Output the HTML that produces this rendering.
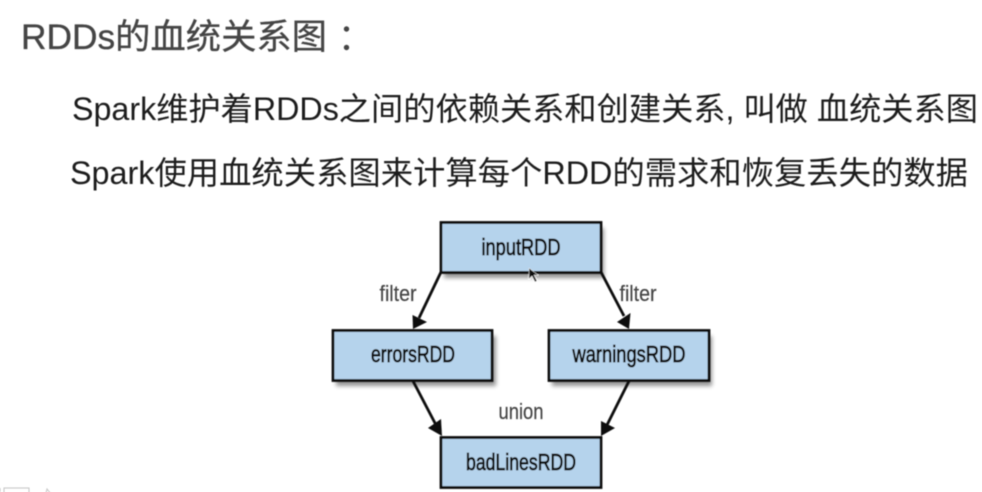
<!DOCTYPE html>
<html><head><meta charset="utf-8"><style>
html,body{margin:0;padding:0;background:#fff;width:982px;height:492px;overflow:hidden}
svg{display:block}
.t{font-family:"Liberation Sans","Noto Sans CJK SC",sans-serif}
.n{font-family:"Liberation Sans",sans-serif;font-size:23px;fill:#111;text-anchor:middle;stroke:#111;stroke-width:.8px}
.l{font-family:"Liberation Sans",sans-serif;font-size:22px;fill:#444;text-anchor:middle;stroke:#444;stroke-width:.2px}
</style></head><body>
<svg width="982" height="492" viewBox="0 0 982 492" xmlns="http://www.w3.org/2000/svg">
<defs><filter id="s" x="-10%" y="-20%" width="120%" height="150%"><feGaussianBlur stdDeviation="2.200"/></filter>
<filter id="b" x="0" y="0" width="100%" height="100%"><feGaussianBlur stdDeviation="0.5"/></filter></defs>
<rect width="982" height="492" fill="#fff"/>
<g filter="url(#b)">
<text class="t" x="21" y="49" font-size="35" fill="#444" stroke="#444" stroke-width=".3" textLength="306" lengthAdjust="spacingAndGlyphs">RDDs的血统关系图</text>
<circle cx="346.500" cy="29" r="2.700" fill="#444"/>
<circle cx="346.500" cy="47.500" r="2.700" fill="#444"/>
<text class="t" x="72" y="120" font-size="32" fill="#1a1a1a" textLength="906" lengthAdjust="spacingAndGlyphs">Spark维护着RDDs之间的依赖关系和创建关系, 叫做 血统关系图</text>
<text class="t" x="70" y="184" font-size="32" fill="#1a1a1a" textLength="898" lengthAdjust="spacingAndGlyphs">Spark使用血统关系图来计算每个RDD的需求和恢复丢失的数据</text>

<g fill="#000" opacity=".42" filter="url(#s)">
<rect x="444" y="228" width="160" height="50"/>
<rect x="336" y="336" width="160" height="50"/>
<rect x="552" y="336" width="160" height="50"/>
</g>
<g fill="#b5d3ec" stroke="#111" stroke-width="2.800">
<rect x="441" y="222.500" width="160" height="50"/>
<rect x="333" y="330.500" width="159" height="50"/>
<rect x="549" y="330.500" width="160" height="50"/>
<rect x="441" y="437.500" width="160" height="50"/>
</g>
<g stroke="#111" stroke-width="2.800" fill="none">
<line x1="441" y1="272" x2="419" y2="318"/>
<line x1="601" y1="272" x2="624" y2="316"/>
<line x1="413" y1="381" x2="436" y2="425"/>
<line x1="629" y1="381" x2="607" y2="425"/>
</g>
<g fill="#111">
<polygon points="413,329 412.500,315 427,322"/>
<polygon points="629,329 617,322 630.500,313"/>
<polygon points="442,436 428,428 441,419"/>
<polygon points="601,436 601,421 615,428"/>
</g>
<text class="n" x="521" y="255" textLength="79" lengthAdjust="spacingAndGlyphs">inputRDD</text>
<text class="n" x="413" y="362" textLength="84" lengthAdjust="spacingAndGlyphs">errorsRDD</text>
<text class="n" x="629" y="362" textLength="113" lengthAdjust="spacingAndGlyphs">warningsRDD</text>
<text class="n" x="521" y="470" textLength="110" lengthAdjust="spacingAndGlyphs">badLinesRDD</text>
<text class="l" x="398" y="301" textLength="37" lengthAdjust="spacingAndGlyphs">filter</text>
<text class="l" x="638" y="301" textLength="37" lengthAdjust="spacingAndGlyphs">filter</text>
<text class="l" x="521" y="419" textLength="45" lengthAdjust="spacingAndGlyphs">union</text>
<polygon points="529,268 529,279 532,276 535,282 537,281 534,275 538,275" fill="#111" stroke="#fff" stroke-width=".5"/>
<g fill="none" stroke="#c4c4c4" stroke-width="1">
<rect x="4" y="488" width="25" height="8"/>
<path d="M45 497 L47 489 L51 494"/>
<line x1="0" y1="488" x2="0" y2="492"/>
</g>
</g>
</svg>
</body></html>
